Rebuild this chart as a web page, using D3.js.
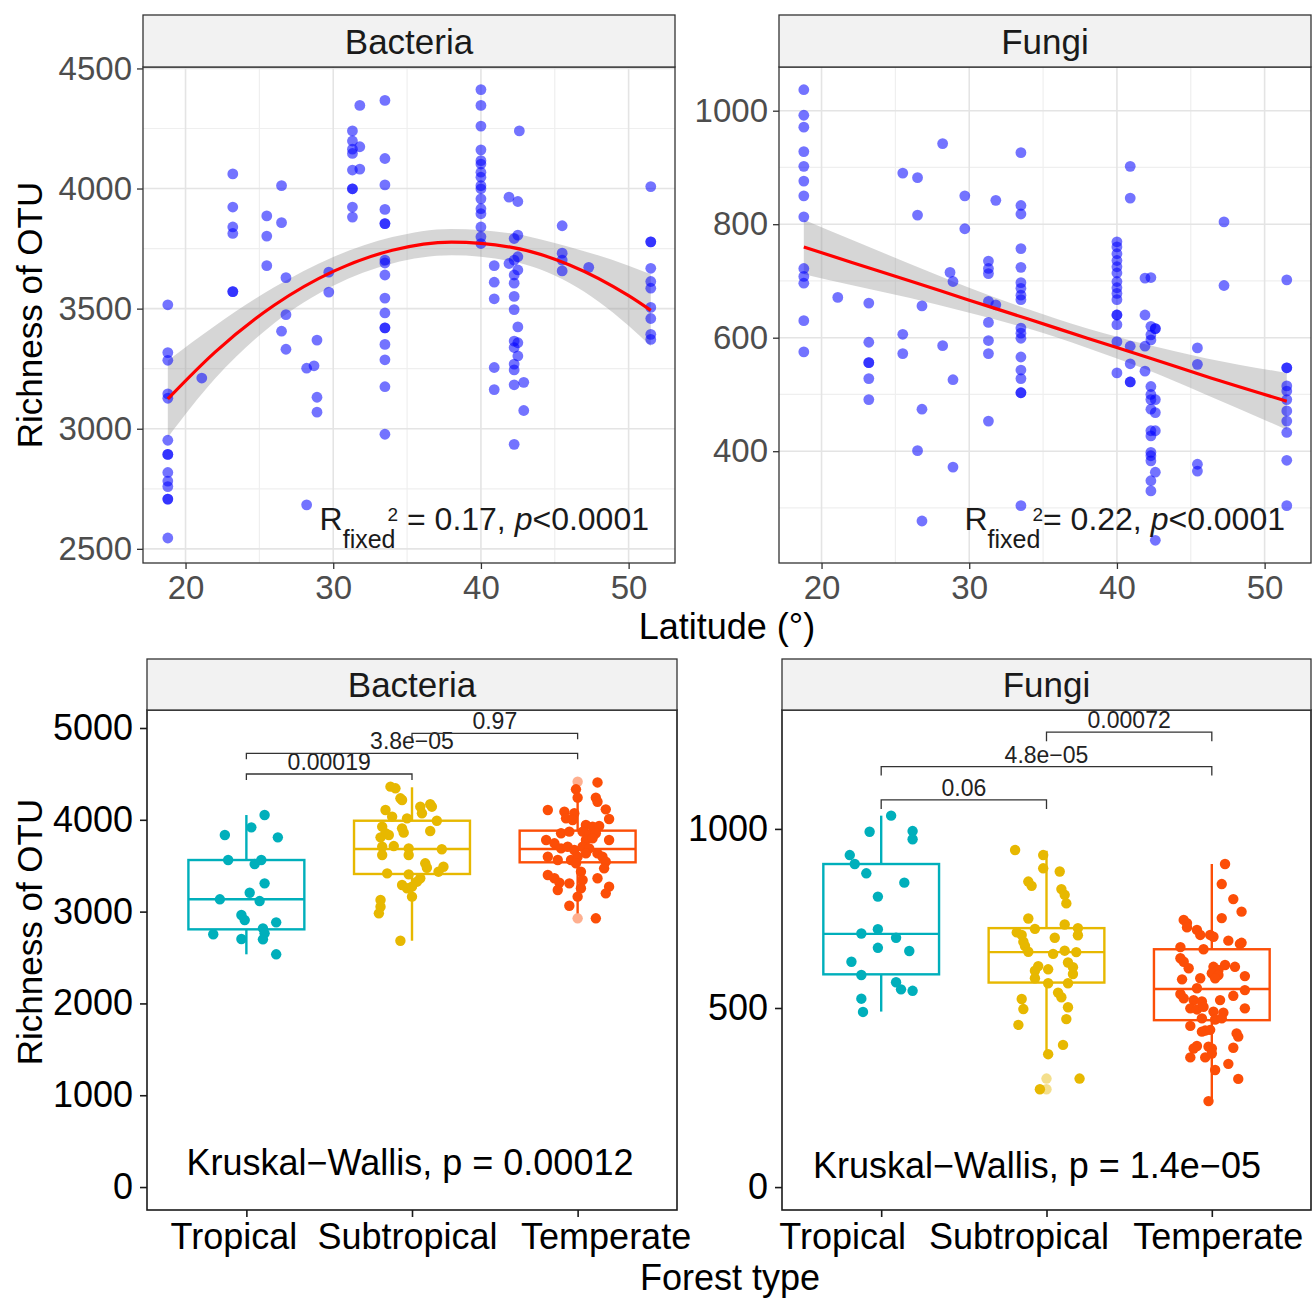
<!DOCTYPE html>
<html>
<head>
<meta charset="utf-8">
<script src="https://cdn.jsdelivr.net/npm/d3@7.9.0/dist/d3.min.js"></script>
<style>
  body { margin: 0; background: #fff; }
  text { font-family: "Liberation Sans", Arial, Helvetica, sans-serif; }
</style>
</head>
<body>
<svg id="chart" width="1313" height="1301"></svg>
<script>
// ---------- latitude scatter: sites and OTU richness per site ----------
const bactLat = [18.8, 21.1, 23.2, 25.5, 26.5, 26.8, 28.2, 28.7, 28.9, 29.7, 31.3, 31.8, 33.5,
  40.0, 40.9, 41.9, 42.25, 42.5, 42.6, 42.9, 45.5, 47.3, 51.5];
const bactOtu = [
  [3516, 3317, 3285, 3145, 3127, 2952, 2893, 2893, 2818, 2782, 2759, 2707, 2707, 2545],
  [3211],
  [4061, 3923, 3840, 3813, 3571, 3571],
  [3886, 3802, 3679],
  [4012, 3858, 3406],
  [3629, 3475, 3331],
  [3252, 2683],
  [3262],
  [3369, 3131, 3069],
  [3652, 3569],
  [4240, 4198, 4164, 4146, 4077, 3999, 3999, 3923, 3881],
  [4346, 4174, 4081],
  [4367, 4125, 4015, 3913, 3854, 3854, 3702, 3690, 3640, 3544, 3482, 3420, 3420, 3351, 3287, 3175, 2977],
  [4412, 4346, 4260, 4161, 4116, 4102, 4068, 4047, 4012, 3999, 3957, 3916, 3895, 3840, 3799, 3771],
  [3679, 3610, 3541, 3255, 3163],
  [3964, 3688],
  [3792, 3702, 3640, 3606, 3551, 3496, 3365, 3338, 3269, 3245, 3183, 2935],
  [3946, 3806, 3716, 3661, 3424, 3358, 3303],
  [4240],
  [3193, 3076],
  [3845, 3731, 3702, 3657],
  [3672],
  [4008, 3778, 3778, 3668, 3613, 3585, 3505, 3459, 3393, 3372]
];

const fungiLat = [18.8, 21.1, 23.2, 25.5, 26.5, 26.8, 28.2, 28.7, 28.9, 29.7, 31.3, 31.8, 33.5,
  40.0, 40.9, 41.9, 42.3, 42.6, 45.45, 47.25, 51.5];
const fungiOtu = [
  [1037, 992, 971, 928, 902, 876, 850, 813, 722, 708, 696, 630, 575],
  [671],
  [661, 592, 556, 556, 528, 491],
  [890, 606, 572],
  [882, 816, 401],
  [656, 474, 277],
  [942, 586],
  [715],
  [699, 526, 372],
  [850, 792],
  [735, 722, 713, 664, 627, 595, 572, 453],
  [842, 658],
  [926, 833, 818, 757, 724, 697, 687, 675, 667, 617, 608, 599, 566, 543, 528, 503, 503, 304],
  [769, 760, 748, 736, 725, 714, 699, 688, 678, 667, 640, 640, 623, 593, 538],
  [902, 846, 585, 554, 522, 522],
  [705, 640, 585, 541],
  [706, 620, 605, 596, 514, 500, 491, 474, 436, 427, 398, 392, 383, 348, 330],
  [616, 616, 491, 468, 436, 363, 243],
  [582, 553, 377, 365],
  [804, 692],
  [702, 547, 547, 515, 506, 491, 471, 453, 433, 384, 304]
];

// fitted curves (mixed model) read at a few latitudes, with CI half widths
const bactFitLat = [18.8, 22, 26, 30, 34, 38, 42, 46, 50, 51.5];
const bactFit = [3124, 3319, 3514, 3655, 3743, 3777, 3756, 3682, 3554, 3493];
const bactFitCI = [160, 110, 75, 60, 55, 55, 58, 75, 125, 150];
const fungiFitLat = [18.8, 22, 26, 30, 34, 38, 42, 46, 51.5];
const fungiFit = [760, 733, 700, 666, 633, 599, 566, 532, 488];
const fungiFitCI = [48, 40, 30, 22, 17, 17, 22, 32, 50];

const latTicks = [20, 30, 40, 50];
const bactYTicks = [2500, 3000, 3500, 4000, 4500];
const fungiYTicks = [400, 600, 800, 1000];

// ---------- forest type boxplots ----------
const forestTypes = ['Tropical', 'Subtropical', 'Temperate'];
const groupColors = ['#00AFBB', '#E7B800', '#FC4E07'];

const bactBoxLo = [2535, 2683, 2981];
const bactBoxQ1 = [2807, 3410, 3537];
const bactBoxMed = [3134, 3682, 3682];
const bactBoxQ3 = [3562, 3990, 3882];
const bactBoxHi = [4052, 4354, 4343];
const bactOutliers = [[], [], [4415, 2927]];

const fungiBoxLo = [490, 371, 240];
const fungiBoxQ1 = [594, 571, 466];
const fungiBoxMed = [707, 656, 553];
const fungiBoxQ3 = [902, 723, 664];
const fungiBoxHi = [1037, 939, 902];
const fungiOutliers = [[], [303, 273], []];

// jittered points: value and horizontal jitter (in category steps)
const bactPts = [
  [4052, 3918, 3834, 3809, 3562, 3518, 3562, 3308, 3206, 3134, 3115, 2963, 2908, 2883, 2818, 2763, 2698, 2753, 2702, 2535],
  [4361, 4343, 4234, 4216, 4143, 4169, 4143, 4107, 4071, 4034, 4016, 3990, 3925, 3907, 3853, 3809, 3834, 3860, 3878,
   3707, 3714, 3689, 3679, 3617, 3617, 3526, 3478, 3489, 3435, 3417, 3406, 3363, 3326, 3290, 3254, 3272, 3163, 3126,
   3053, 2981, 2683],
  [4407, 4332, 4241, 4241, 4197, 4107, 4089, 4071, 4114, 4016, 3998, 4009, 3943, 3925, 3932, 3853, 3871, 3871, 3834,
   3853, 3780, 3744, 3780, 3798, 3780, 3689, 3707, 3671, 3707, 3689, 3598, 3562, 3562, 3598, 3634, 3634, 3598, 3544,
   3471, 3526, 3435, 3399, 3363, 3344, 3363, 3316, 3308, 3272, 3199, 3235, 3254, 3163, 3064, 2927]
];
const bactJit = [
  [.11, .03, -.13, .19, -.11, .05, .09, .11, .02, -.16, .08, -.03, -.01, .18, .10, .11, .10, -.20, -.03, .18],
  [-.13, -.10, -.07, -.06, .05, .11, .12, -.16, .06, -.12, -.03, .15, -.18, -.06, -.16, -.19, -.14, -.05, .11,
   -.18, -.11, -.02, .18, -.18, -.02, .08, .09, .19, .16, -.15, -.02, .05, .03, -.06, -.03, 0, 0, -.19,
   -.19, -.20, -.07],
  [.12, -.01, 0, .11, .12, -.18, -.08, -.02, .17, -.07, -.03, .19, .05, .09, .13, -.10, -.05, .03, .07,
   .11, -.19, -.14, .05, .09, .19, -.10, -.06, -.02, .03, .07, -.18, -.12, -.04, 0, .05, .12, .15, .17,
   .16, -.01, .02, -.18, -.14, .03, .12, -.11, -.05, .19, .17, -.12, .02, 0, -.05, .11]
];
const fungiPts = [
  [1037, 994, 992, 971, 927, 902, 876, 850, 811, 720, 708, 696, 668, 659, 629, 592, 572, 552, 548, 526, 489],
  [941, 927, 890, 881, 853, 841, 832, 816, 792, 750, 733, 721, 711, 704, 696, 723, 703, 685, 673, 657, 651, 660,
   656, 627, 617, 604, 608, 614, 595, 583, 569, 569, 543, 530, 525, 497, 502, 469, 453, 397, 371, 303, 273],
  [902, 846, 804, 769, 751, 746, 737, 725, 718, 704, 704, 699, 688, 679, 682, 670, 664, 639, 629, 615, 606, 620,
   615, 611, 597, 592, 583, 589, 580, 583, 555, 539, 527, 550, 534, 522, 522, 518, 499, 496, 503, 499, 490, 487,
   468, 471, 471, 450, 434, 437, 439, 429, 420, 394, 387, 392, 387, 389, 362, 362, 373, 344, 327, 302, 240]
];
const fungiJit = [
  [.06, .19, -.07, .19, -.19, -.16, -.09, .14, -.02, -.02, -.12, .09, -.02, .17, -.18, -.12, .09, .12, .19, -.12, -.11],
  [-.19, -.02, -.02, .08, -.11, -.09, .09, .11, .12, -.11, .11, -.07, -.18, -.15, .05, .19, .19, -.14, -.13, -.11,
   .04, .11, .18, .13, -.05, -.07, .01, .16, .16, -.07, .01, .13, .07, .09, -.15, -.14, .13, .12, -.17, .10, .01,
   .20, -.04],
  [.08, .06, .13, .18, .06, -.17, -.15, -.15, -.09, -.07, -.01, .01, .10, .17, .18, -.19, -.05, -.19, -.17, .01,
   .04, .08, .14, -.14, 0, .04, .02, .20, -.18, -.07, -.09, -.19, -.17, .20, .13, .05, -.11, -.06, -.13, -.09,
   -.05, .20, .01, .07, .02, .06, -.06, -.13, -.06, -.04, -.01, .15, .16, -.09, -.11, -.02, 0, .13, -.13, -.04, 0,
   .10, .02, .16, -.02]
];

// pairwise Wilcoxon comparisons
const bactCmpA = [0, 0, 1];
const bactCmpB = [1, 2, 2];
const bactCmpP = ['0.00019', '3.8e\u221205', '0.97'];
const bactCmpY = [4499, 4724, 4942];
const fungiCmpA = [0, 0, 1];
const fungiCmpB = [1, 2, 2];
const fungiCmpP = ['0.06', '4.8e\u221205', '0.00072'];
const fungiCmpY = [1081, 1174, 1270];

const bactKW = 'Kruskal\u2212Wallis, p = 0.00012';
const fungiKW = 'Kruskal\u2212Wallis, p = 1.4e\u221205';

// ---------- drawing ----------
const svg = d3.select('#chart');
const fmt = d3.format('d');

function drawStrip(x0, x1, y0, y1, label) {
  svg.append('rect')
    .attr('x', x0).attr('y', y0).attr('width', x1 - x0).attr('height', y1 - y0)
    .attr('fill', '#f2f2f2').attr('stroke', '#333').attr('stroke-width', 1.3);
  svg.append('text')
    .attr('x', (x0 + x1) / 2).attr('y', (y0 + y1) / 2).attr('dy', '0.36em')
    .attr('text-anchor', 'middle').attr('font-size', 35).attr('fill', '#1a1a1a')
    .text(label);
}

function scatterPanel(p) {
  const x = d3.scaleLinear().domain([17.12, 53.14]).range([p.left, p.right]);
  const y = d3.scaleLinear().domain(p.yDomain).range([p.bottom, p.top]);
  const g = svg.append('g');

  // grid: minor then major
  const xMinor = [15, 25, 35, 45, 55].filter(d => x(d) > p.left && x(d) < p.right);
  const yMinor = p.yMinor.filter(d => y(d) > p.top && y(d) < p.bottom);
  g.selectAll('.xm').data(xMinor).join('line')
    .attr('x1', d => x(d)).attr('x2', d => x(d)).attr('y1', p.top).attr('y2', p.bottom)
    .attr('stroke', '#efefef').attr('stroke-width', 1.2);
  g.selectAll('.ym').data(yMinor).join('line')
    .attr('y1', d => y(d)).attr('y2', d => y(d)).attr('x1', p.left).attr('x2', p.right)
    .attr('stroke', '#efefef').attr('stroke-width', 1.2);
  g.selectAll('.xg').data(latTicks).join('line')
    .attr('x1', d => x(d)).attr('x2', d => x(d)).attr('y1', p.top).attr('y2', p.bottom)
    .attr('stroke', '#e4e4e4').attr('stroke-width', 1.6);
  g.selectAll('.yg').data(p.yTicks).join('line')
    .attr('y1', d => y(d)).attr('y2', d => y(d)).attr('x1', p.left).attr('x2', p.right)
    .attr('stroke', '#e4e4e4').attr('stroke-width', 1.6);

  // confidence band
  const fit = p.fitLat.map((lat, i) => ({ lat, v: p.fit[i], se: p.ci[i] }));
  g.append('path')
    .datum(fit)
    .attr('d', d3.area().curve(d3.curveMonotoneX)
      .x(d => x(d.lat)).y0(d => y(d.v - d.se)).y1(d => y(d.v + d.se)))
    .attr('fill', '#999999').attr('fill-opacity', 0.4);

  // points
  const pts = p.lat.flatMap((lat, i) => p.otu[i].map(v => ({ lat, v })));
  g.selectAll('.pt').data(pts).join('circle')
    .attr('cx', d => x(d.lat)).attr('cy', d => y(d.v)).attr('r', 5.4)
    .attr('fill', 'blue').attr('fill-opacity', 0.55);

  // fitted line
  g.append('path')
    .datum(fit)
    .attr('d', d3.line().curve(d3.curveMonotoneX).x(d => x(d.lat)).y(d => y(d.v)))
    .attr('fill', 'none').attr('stroke', 'red').attr('stroke-width', 3.2);

  // border
  g.append('rect')
    .attr('x', p.left).attr('y', p.top).attr('width', p.right - p.left).attr('height', p.bottom - p.top)
    .attr('fill', 'none').attr('stroke', '#333').attr('stroke-width', 1.3);

  // axes
  const ax = g.append('g').attr('transform', `translate(0,${p.bottom})`)
    .call(d3.axisBottom(x).tickValues(latTicks).tickFormat(fmt).tickSize(6).tickPadding(7));
  const ay = g.append('g').attr('transform', `translate(${p.left},0)`)
    .call(d3.axisLeft(y).tickValues(p.yTicks).tickFormat(fmt).tickSize(6).tickPadding(5));
  [ax, ay].forEach(a => {
    a.select('.domain').remove();
    a.selectAll('line').attr('stroke', '#333').attr('stroke-width', 1.3);
    a.selectAll('text').attr('font-size', 33).attr('fill', '#4d4d4d')
      .style('font-family', '"Liberation Sans", Arial, sans-serif');
  });

  // R2 annotation
  const t = g.append('text')
    .attr('x', p.right - 26).attr('y', p.bottom - 33)
    .attr('text-anchor', 'end').attr('font-size', 32).attr('fill', '#1a1a1a');
  t.append('tspan').text('R');
  t.append('tspan').attr('font-size', 25).attr('dy', 18).text('fixed');
  t.append('tspan').attr('font-size', 19).attr('dx', -8).attr('dy', -27).text('2');
  t.append('tspan').attr('dy', 9).text(p.r2);
  t.append('tspan').attr('font-style', 'italic').text('p');
  t.append('tspan').text('<0.0001');

  drawStrip(p.left, p.right, 15, p.top, p.title);
}

function boxPanel(p) {
  const x = d3.scalePoint().domain(forestTypes).range([p.left, p.right]).padding(0.6);
  const y = d3.scaleLinear().domain(p.yDomain).range([p.bottom, p.top]);
  const step = x.step();
  const bw = step * 0.7;
  const g = svg.append('g');

  g.append('rect')
    .attr('x', p.left).attr('y', p.top).attr('width', p.right - p.left).attr('height', p.bottom - p.top)
    .attr('fill', '#fff');

  forestTypes.forEach((ft, i) => {
    const cx = x(ft);
    const col = groupColors[i];
    const bg = g.append('g').attr('stroke', col).attr('stroke-width', 2.4).attr('fill', 'none');
    bg.append('line').attr('x1', cx).attr('x2', cx).attr('y1', y(p.hi[i])).attr('y2', y(p.q3[i]));
    bg.append('line').attr('x1', cx).attr('x2', cx).attr('y1', y(p.q1[i])).attr('y2', y(p.lo[i]));
    bg.append('rect').attr('x', cx - bw / 2).attr('width', bw)
      .attr('y', y(p.q3[i])).attr('height', y(p.q1[i]) - y(p.q3[i])).attr('fill', '#fff');
    bg.append('line').attr('x1', cx - bw / 2).attr('x2', cx + bw / 2)
      .attr('y1', y(p.med[i])).attr('y2', y(p.med[i]));
    g.selectAll(null).data(p.outliers[i]).join('circle')
      .attr('cx', cx).attr('cy', d => y(d)).attr('r', 5.2)
      .attr('fill', col).attr('fill-opacity', 0.45);
    g.selectAll(null).data(p.pts[i]).join('circle')
      .attr('cx', (d, j) => cx + p.jit[i][j] * step).attr('cy', d => y(d)).attr('r', 5.2)
      .attr('fill', col);
  });

  // comparison brackets
  p.cmpA.forEach((a, k) => {
    const x1 = x(forestTypes[a]), x2 = x(forestTypes[p.cmpB[k]]), yy = y(p.cmpY[k]);
    g.append('path')
      .attr('d', `M${x1},${yy + p.tip}V${yy}H${x2}V${yy + p.tip}`)
      .attr('fill', 'none').attr('stroke', '#333').attr('stroke-width', 1.3);
    g.append('text').attr('x', (x1 + x2) / 2).attr('y', yy - 4)
      .attr('text-anchor', 'middle').attr('font-size', 23).attr('fill', '#222')
      .text(p.cmpP[k]);
  });

  g.append('text').attr('x', p.kwX).attr('y', y(p.kwY)).attr('dy', '0.36em')
    .attr('text-anchor', 'middle').attr('font-size', 36).attr('fill', '#000')
    .text(p.kw);

  g.append('rect')
    .attr('x', p.left).attr('y', p.top).attr('width', p.right - p.left).attr('height', p.bottom - p.top)
    .attr('fill', 'none').attr('stroke', '#1a1a1a').attr('stroke-width', 1.6);

  const ax = g.append('g').attr('transform', `translate(0,${p.bottom})`)
    .call(d3.axisBottom(x).tickSize(7).tickPadding(6));
  const ay = g.append('g').attr('transform', `translate(${p.left},0)`)
    .call(d3.axisLeft(y).tickValues(p.yTicks).tickFormat(fmt).tickSize(7).tickPadding(7));
  [ax, ay].forEach(a => {
    a.select('.domain').remove();
    a.selectAll('line').attr('stroke', '#1a1a1a').attr('stroke-width', 1.6);
    a.selectAll('text').attr('font-size', 36).attr('fill', '#000')
      .style('font-family', '"Liberation Sans", Arial, sans-serif');
  });
  ax.selectAll('text').attr('dx', (d, i) => p.labelNudge[i]);

  drawStrip(p.left, p.right, 659, p.top, p.title);
}

scatterPanel({
  left: 143, right: 675, top: 67, bottom: 563, title: 'Bacteria',
  yDomain: [2441, 4506], yTicks: bactYTicks, yMinor: [2750, 3250, 3750, 4250],
  lat: bactLat, otu: bactOtu, fitLat: bactFitLat, fit: bactFit, ci: bactFitCI,
  r2: ' = 0.17, '
});
scatterPanel({
  left: 779, right: 1311, top: 67, bottom: 563, title: 'Fungi',
  yDomain: [203, 1077], yTicks: fungiYTicks, yMinor: [300, 500, 700, 900],
  lat: fungiLat, otu: fungiOtu, fitLat: fungiFitLat, fit: fungiFit, ci: fungiFitCI,
  r2: '= 0.22, '
});

boxPanel({
  left: 147, right: 677, top: 710, bottom: 1210, title: 'Bacteria',
  yDomain: [-250, 5196], yTicks: [0, 1000, 2000, 3000, 4000, 5000],
  lo: bactBoxLo, q1: bactBoxQ1, med: bactBoxMed, q3: bactBoxQ3, hi: bactBoxHi,
  outliers: bactOutliers, pts: bactPts, jit: bactJit,
  cmpA: bactCmpA, cmpB: bactCmpB, cmpP: bactCmpP, cmpY: bactCmpY, tip: 6,
  kw: bactKW, kwX: 410, kwY: 270, labelNudge: [-13, -5, 28]
});
boxPanel({
  left: 782, right: 1311, top: 710, bottom: 1210, title: 'Fungi',
  yDomain: [-64, 1332], yTicks: [0, 500, 1000],
  lo: fungiBoxLo, q1: fungiBoxQ1, med: fungiBoxMed, q3: fungiBoxQ3, hi: fungiBoxHi,
  outliers: fungiOutliers, pts: fungiPts, jit: fungiJit,
  cmpA: fungiCmpA, cmpB: fungiCmpB, cmpP: fungiCmpP, cmpY: fungiCmpY, tip: 9,
  kw: fungiKW, kwX: 1037, kwY: 62, labelNudge: [-39, -28, 6]
});

// axis titles
svg.append('text').attr('transform', 'translate(42,315) rotate(-90)')
  .attr('text-anchor', 'middle').attr('font-size', 35).attr('fill', '#000').text('Richness of OTU');
svg.append('text').attr('transform', 'translate(42,932) rotate(-90)')
  .attr('text-anchor', 'middle').attr('font-size', 35).attr('fill', '#000').text('Richness of OTU');
svg.append('text').attr('x', 727).attr('y', 639)
  .attr('text-anchor', 'middle').attr('font-size', 36).attr('fill', '#000').text('Latitude (\u00b0)');
svg.append('text').attr('x', 730).attr('y', 1290)
  .attr('text-anchor', 'middle').attr('font-size', 36).attr('fill', '#000').text('Forest type');
</script>
</body>
</html>
